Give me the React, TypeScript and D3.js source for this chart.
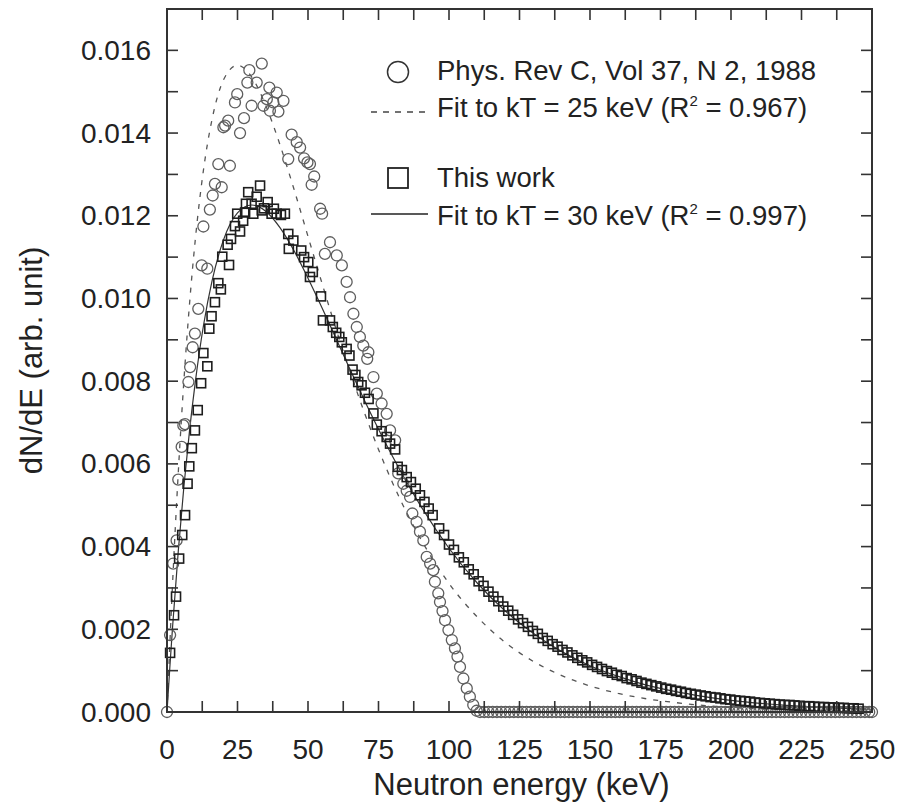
import React from 'react';
import * as d3 from 'd3';

// Phys. Rev C, Vol 37, N 2, 1988 (open circles)
const prcE = [0, 1.1, 2.2, 3.4, 4.0, 5.2, 5.8, 6.4, 7.6, 8.2, 9.1, 9.9, 11.1, 12.3, 12.9, 14.3, 15.2, 16.2, 17.0, 18.2,
  19.4, 20.0, 20.6, 21.7, 22.3, 24.1, 24.9, 25.9, 27.3, 28.5, 29.2, 30.0, 31.8, 33.6, 34.2, 35.4, 36.3, 36.5, 37.7, 38.9,
  39.5, 41.3, 43.0, 44.2, 46.0, 47.2, 48.6, 49.8, 50.7, 51.3, 52.2, 54.3, 55.0, 56.0, 57.8, 60.2, 62.0, 63.7, 64.9, 66.1,
  67.3, 68.4, 69.6, 71.0, 71.4, 73.2, 74.4, 76.1, 77.9, 79.1, 80.9, 82.0, 83.8, 85.0, 86.2, 87.0, 88.5, 89.7, 90.9, 92.1,
  93.3, 94.4, 95.0, 96.2, 96.8, 97.7, 98.6, 99.8, 101.0, 102.1, 103.0, 103.9, 105.1, 106.3, 107.4, 108.6, 109.8];
const prcY = [0, 0.00186, 0.00359, 0.00415, 0.00562, 0.00641, 0.00693, 0.00696, 0.00798, 0.00834, 0.00882, 0.00915, 0.00975, 0.0108, 0.01174, 0.01072, 0.01215, 0.01249, 0.01277, 0.01325,
  0.01269, 0.01414, 0.01418, 0.0143, 0.01321, 0.01474, 0.01494, 0.014, 0.01436, 0.01522, 0.01552, 0.01466, 0.01522, 0.01568, 0.01466, 0.01482, 0.0151, 0.01454, 0.01474, 0.01498,
  0.01452, 0.01478, 0.01337, 0.01396, 0.01378, 0.01365, 0.01339, 0.01329, 0.01325, 0.01275, 0.01295, 0.01217, 0.01205, 0.01108, 0.01136, 0.01104, 0.0108, 0.0104, 0.01003, 0.00963,
  0.00931, 0.00907, 0.00886, 0.00854, 0.0087, 0.0081, 0.0077, 0.00746, 0.00721, 0.00681, 0.00657, 0.00577, 0.00552, 0.00535, 0.0052, 0.0048, 0.0046, 0.00436, 0.00415, 0.00375,
  0.00359, 0.00343, 0.00315, 0.00287, 0.00266, 0.00244, 0.00222, 0.00198, 0.00174, 0.00154, 0.00134, 0.00109, 0.00081, 0.00057, 0.00037, 0.00017, 0.00003];
// circles lying on zero above ~110 keV
const prcTailE = [111, 112.5, 114, 115.5, 117, 118.5, 120, 121.5, 123, 124.5, 126, 127.5, 129, 130.5, 132, 133.5, 135, 136.5, 138, 139.5,
  141, 142.5, 144, 145.5, 147, 148.5, 150, 151.5, 153, 154.5, 156, 157.5, 159, 160.5, 162, 163.5, 165, 166.5, 168, 169.5,
  171, 172.5, 174, 175.5, 177, 178.5, 180, 181.5, 183, 184.5, 186, 187.5, 189, 190.5, 192, 193.5, 195, 196.5, 198, 199.5,
  201, 202.5, 204, 205.5, 207, 208.5, 210, 211.5, 213, 214.5, 216, 217.5, 219, 220.5, 222, 223.5, 225, 226.5, 228, 229.5,
  231, 232.5, 234, 235.5, 237, 238.5, 240, 241.5, 243, 244.5, 246, 247.5, 249, 250];

// This work (open squares)
const workE = [1.1, 2.5, 3.2, 4.3, 5.4, 6.4, 7.3, 7.9, 8.8, 9.9, 10.9, 12.1, 12.9, 14.3, 15.0, 15.8, 17.0, 18.2, 19.1, 19.6,
  21.5, 22.0, 22.7, 24.1, 24.9, 25.9, 27.0, 27.7, 28.0, 28.8, 30.0, 30.6, 31.8, 33.0, 33.6, 34.4, 35.7, 37.1, 37.9, 38.9,
  40.4, 41.8, 43.0, 43.2, 44.8, 47.6, 48.6, 50.1, 50.7, 51.7, 54.6, 55.3, 57.8, 58.8, 60.0, 61.1, 62.0, 63.7, 64.7, 65.8,
  66.8, 67.8, 69.0, 70.2, 71.5, 73.2, 74.4, 76.1, 77.9, 79.1, 80.9, 81.8, 83.3, 85.0, 86.5, 88.2, 89.7, 91.3, 92.8, 94.2,
  96.5, 98.25, 100, 101.75, 103.5, 105.25, 107, 108.75, 110.5, 112.25, 114, 115.75, 117.5, 119.25, 121, 122.75, 124.5, 126.25, 128, 129.75,
  131.5, 133.25, 135, 136.75, 138.5, 140.25, 142, 143.75, 145.5, 147.25, 149, 150.75, 152.5, 154.25, 156, 157.75, 159.5, 161.25, 163, 164.75,
  166.5, 168.25, 170, 171.75, 173.5, 175.25, 177, 178.75, 180.5, 182.25, 184, 185.75, 187.5, 189.25, 191, 192.75, 194.5, 196.25, 198, 199.75,
  201.5, 203.25, 205, 206.75, 208.5, 210.25, 212, 213.75, 215.5, 217.25, 219, 220.75, 222.5, 224.25, 226, 227.75, 229.5, 231.25, 233, 234.75,
  236.5, 238.25, 240, 241.75, 243.5, 245.25];
const workY = [0.00143, 0.00234, 0.00279, 0.00371, 0.00428, 0.00476, 0.00552, 0.00594, 0.00638, 0.00681, 0.0073, 0.00795, 0.00868, 0.00836, 0.00927, 0.00957, 0.00991, 0.01037, 0.01022, 0.01101,
  0.0113, 0.01081, 0.01144, 0.01175, 0.01205, 0.01162, 0.01188, 0.01208, 0.01229, 0.01257, 0.01229, 0.01205, 0.01246, 0.01273, 0.01213, 0.01218, 0.01233, 0.01205, 0.01217, 0.01205,
  0.01202, 0.01205, 0.01156, 0.0112, 0.0114, 0.01116, 0.011, 0.01088, 0.01052, 0.01064, 0.01005, 0.00947, 0.00947, 0.00931, 0.00917, 0.00907, 0.00894, 0.00878, 0.00862, 0.00828,
  0.00815, 0.00798, 0.0079, 0.00772, 0.00757, 0.00722, 0.00695, 0.00679, 0.00665, 0.00649, 0.00635, 0.00593, 0.00585, 0.00568, 0.00556, 0.0054, 0.00524, 0.00508, 0.00492, 0.00476,
  0.00444, 0.00428, 0.00405, 0.00392, 0.00374, 0.00362, 0.00345, 0.00333, 0.00316, 0.00305, 0.00291, 0.00279, 0.00268, 0.00255, 0.00245, 0.00235, 0.00224, 0.00215, 0.00206, 0.00196,
  0.00189, 0.00179, 0.00172, 0.00164, 0.00158, 0.0015, 0.00144, 0.00137, 0.00131, 0.00125, 0.0012, 0.00114, 0.00109, 0.00104, 0.00099, 0.00095, 0.0009, 0.00087, 0.00082, 0.00079,
  0.00075, 0.00071, 0.00068, 0.00065, 0.00062, 0.00059, 0.00056, 0.00054, 0.00051, 0.00049, 0.00046, 0.00044, 0.00042, 0.0004, 0.00038, 0.00036, 0.00035, 0.00033, 0.00031, 0.0003,
  0.00028, 0.00027, 0.00026, 0.00025, 0.00023, 0.00022, 0.00021, 0.0002, 0.00019, 0.00018, 0.00017, 0.00017, 0.00016, 0.00015, 0.00014, 0.00014, 0.00013, 0.00012, 0.00012, 0.00011,
  0.00011, 0.0001, 0.0001, 0.00009, 0.00009, 0.00008];

// fit curves
const fit25E = [0, 1, 2, 4, 6, 8, 10, 13, 16, 20, 25, 30, 35, 40, 45, 50, 55, 60, 65, 70, 75, 80, 90, 100, 110, 120, 130, 140, 150, 160, 170, 180, 190, 200, 220, 250];
const fit25Y = [0, 0.00163, 0.00314, 0.00579, 0.00802, 0.00988, 0.0114, 0.01314, 0.01434, 0.01528, 0.01564, 0.01536, 0.01467, 0.01373, 0.01265, 0.0115, 0.01036, 0.00925, 0.00821, 0.00724,
  0.00635, 0.00554, 0.00418, 0.00311, 0.0023, 0.00168, 0.00122, 0.00088, 0.00063, 0.00045, 0.00032, 0.00023, 0.00016, 0.00011, 0.000057, 0.00002];
const fit30E = [0, 1, 2, 4, 6, 8, 10, 13, 16, 20, 25, 30, 35, 40, 45, 50, 55, 60, 65, 70, 75, 80, 90, 100, 110, 120, 130, 140, 150, 160, 170, 180, 190, 200, 220, 250];
const fit30Y = [0, 0.001075, 0.00208, 0.00389, 0.00546, 0.00681, 0.00796, 0.00937, 0.01043, 0.01141, 0.01207, 0.01226, 0.01211, 0.01172, 0.01116, 0.01049, 0.00977, 0.00902, 0.00827, 0.00754,
  0.00684, 0.00618, 0.00498, 0.00396, 0.00312, 0.00244, 0.0019, 0.00146, 0.00112, 0.00086, 0.00065, 0.0005, 0.00038, 0.00028, 0.00016, 0.000067];

const xTickLabels = [0, 25, 50, 75, 100, 125, 150, 175, 200, 225, 250];
const yTickLabels = ['0.000', '0.002', '0.004', '0.006', '0.008', '0.010', '0.012', '0.014', '0.016'];

const W = 901;
const H = 811;
const left = 167, right = 872, top = 9, bottom = 712;
const font = 'Liberation Sans, Arial, Helvetica, sans-serif';

export default function App() {
  const x = d3.scaleLinear().domain([0, 250]).range([left, right]);
  const y = d3.scaleLinear().domain([0, 0.017]).range([bottom, top]);

  const line = d3.line<[number, number]>()
    .x(d => x(d[0]))
    .y(d => y(d[1]))
    .curve(d3.curveMonotoneX);

  const fit25 = fit25E.map((e, i) => [e, fit25Y[i]] as [number, number]);
  const fit30 = fit30E.map((e, i) => [e, fit30Y[i]] as [number, number]);
  const circles = prcE.map((e, i) => [e, prcY[i]]).concat(prcTailE.map(e => [e, 0]));
  const squares = workE.map((e, i) => [e, workY[i]]);

  const xMinor = d3.range(0, 250.01, 12.5);
  const yMinor = d3.range(0, 0.01701, 0.001);
  const tick = 11;
  const sq = 9;

  return (
    <svg width={W} height={H} style={{ position: 'absolute', left: 0, top: 0, background: '#fff' }}
      fontFamily={font}>
      {/* fit lines */}
      <path d={line(fit25) || ''} fill="none" stroke="#555" strokeWidth={1.3} strokeDasharray="5,7" />
      <path d={line(fit30) || ''} fill="none" stroke="#333" strokeWidth={1.2} />

      {/* data */}
      <g fill="none" stroke="#5e5e5e" strokeWidth={1.3}>
        {circles.map((d, i) => (
          <circle key={i} cx={x(d[0])} cy={y(d[1])} r={5.5} />
        ))}
      </g>
      <g fill="none" stroke="#1e1e1e" strokeWidth={1.6}>
        {squares.map((d, i) => (
          <rect key={i} x={x(d[0]) - sq / 2} y={y(d[1]) - sq / 2} width={sq} height={sq} />
        ))}
      </g>

      {/* frame and ticks */}
      <rect x={left} y={top} width={right - left} height={bottom - top} fill="none" stroke="#333" strokeWidth={2} />
      <g stroke="#333" strokeWidth={1.6}>
        {xMinor.map((v, i) => (
          <g key={i}>
            <line x1={x(v)} x2={x(v)} y1={bottom} y2={bottom - tick} />
            <line x1={x(v)} x2={x(v)} y1={top} y2={top + tick} />
          </g>
        ))}
        {yMinor.map((v, i) => (
          <g key={i}>
            <line x1={left} x2={left + tick} y1={y(v)} y2={y(v)} />
            <line x1={right} x2={right - tick} y1={y(v)} y2={y(v)} />
          </g>
        ))}
      </g>

      {/* tick labels */}
      <g fontSize={28} fill="#222">
        {xTickLabels.map(v => (
          <text key={v} x={x(v)} y={759} textAnchor="middle">{v}</text>
        ))}
        {yTickLabels.map(s => (
          <text key={s} x={151} y={y(+s)} textAnchor="end" dominantBaseline="central">{s}</text>
        ))}
      </g>

      {/* axis titles */}
      <text x={(left + right) / 2 + 2} y={795} textAnchor="middle" fontSize={31} fill="#222">Neutron energy (keV)</text>
      <text transform={`translate(31, ${(top + bottom) / 2}) rotate(-90)`} textAnchor="middle"
        dominantBaseline="central" fontSize={31} fill="#222">dN/dE (arb. unit)</text>

      {/* legend */}
      <g fontSize={27.5} fill="#222">
        <circle cx={398} cy={72} r={10.5} fill="none" stroke="#333" strokeWidth={1.5} />
        <text x={437} y={80}>Phys. Rev C, Vol 37, N 2, 1988</text>

        <line x1={371} x2={427} y1={112} y2={112} stroke="#444" strokeWidth={1.5} strokeDasharray="6,6" />
        <text x={437} y={117}>Fit to kT = 25 keV (R<tspan dy={-11} fontSize={15}>2</tspan><tspan dy={11}> = 0.967)</tspan></text>

        <rect x={388} y={168} width={20} height={20} fill="none" stroke="#222" strokeWidth={1.8} />
        <text x={437} y={187}>This work</text>

        <line x1={371} x2={428} y1={214} y2={214} stroke="#222" strokeWidth={1.5} />
        <text x={437} y={225}>Fit to kT = 30 keV (R<tspan dy={-11} fontSize={15}>2</tspan><tspan dy={11}> = 0.997)</tspan></text>
      </g>
    </svg>
  );
}
